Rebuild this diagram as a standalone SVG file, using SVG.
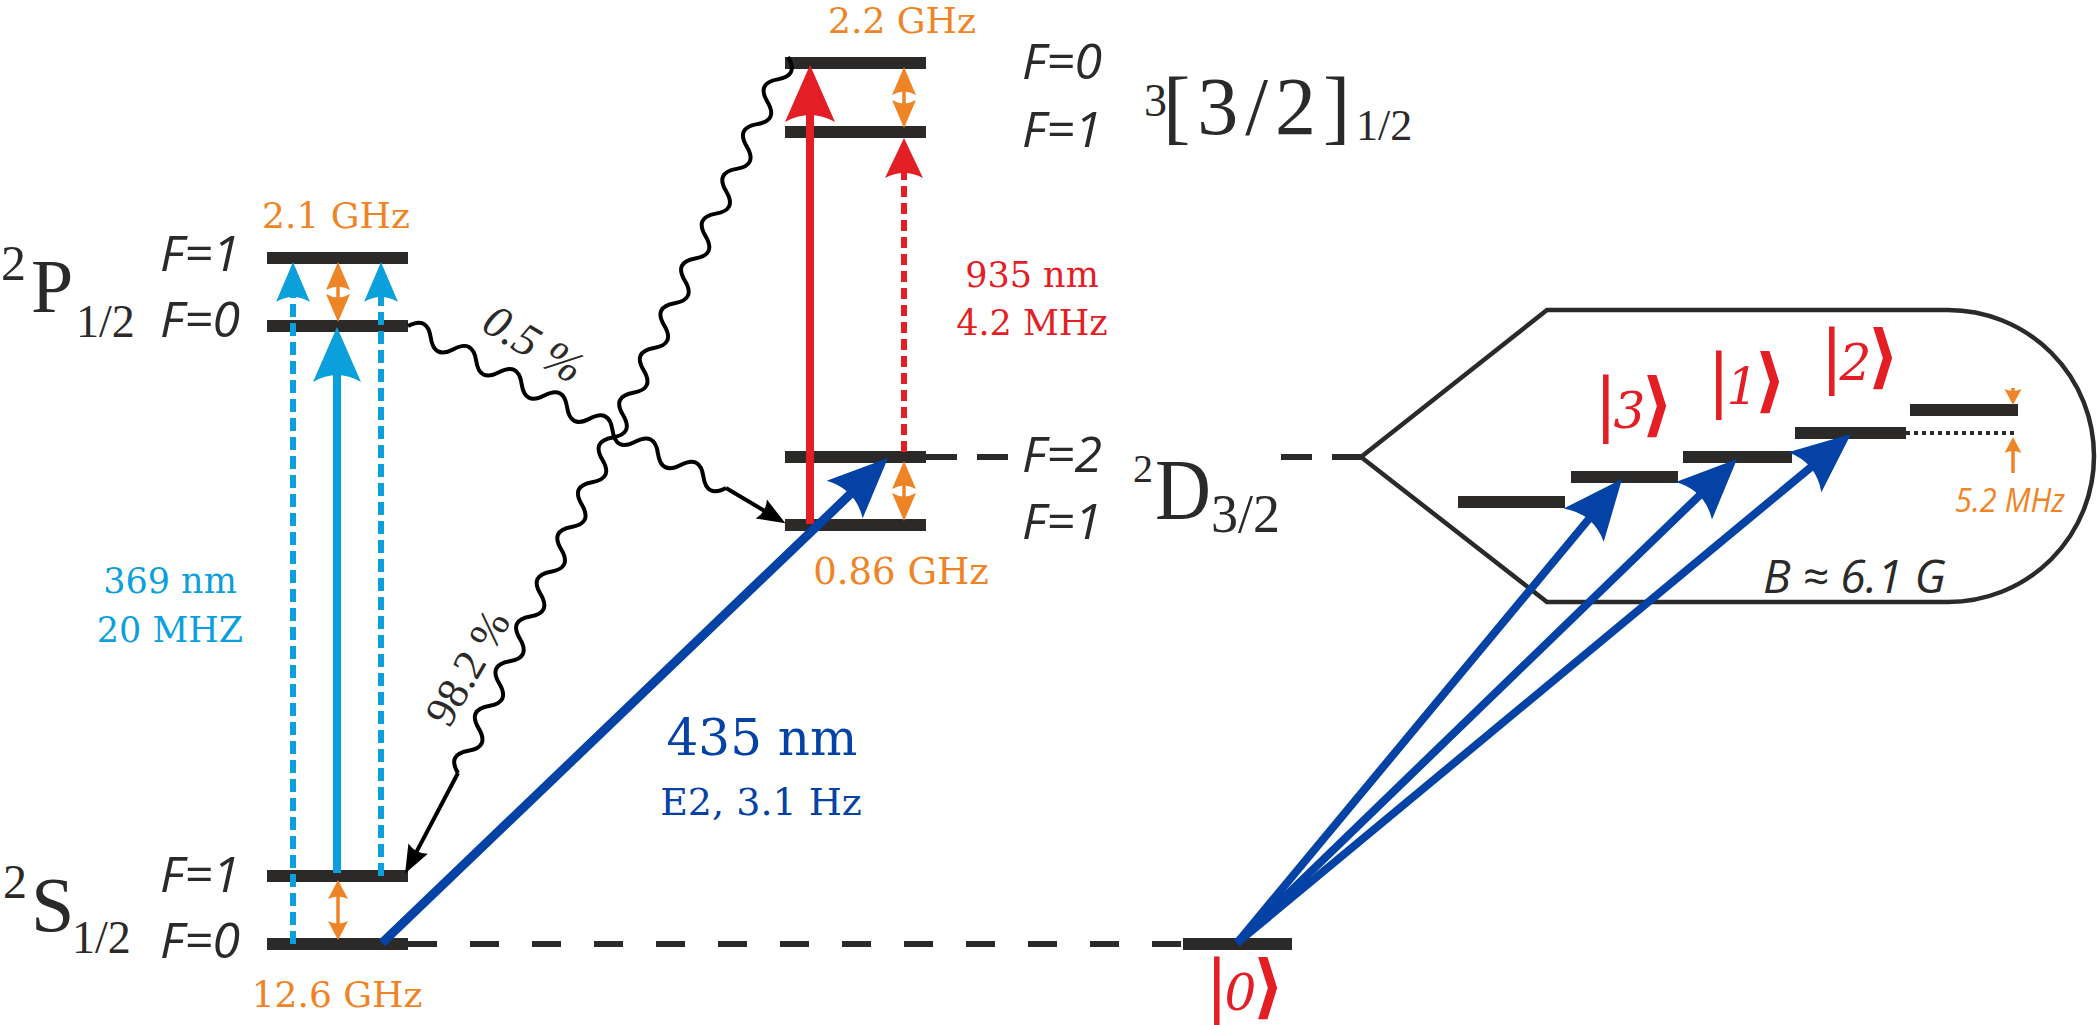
<svg xmlns="http://www.w3.org/2000/svg" width="2097" height="1025" viewBox="0 0 2097 1025">
<style>
.lvl{stroke:#2b2a29;stroke-width:12;fill:none}
.dash{stroke:#2b2a29;stroke-width:6;fill:none}
.wave{stroke:#000;stroke-width:4;fill:none}
.fl{font-family:"Open Sans","Noto Sans",sans-serif;font-style:italic;fill:#2b2a29}
.term{font-family:"Liberation Serif",serif;fill:#2b2a29}
.num{font-family:"DejaVu Serif",serif;text-anchor:middle}
.or{fill:#ef8426}
.lb{fill:#0b9fdc}
.rd{fill:#e31e25}
.db{fill:#0443a5}
.ket{font-family:"DejaVu Serif",serif;fill:#e31e25;letter-spacing:-4px}
.pct{font-family:"Liberation Serif",serif;fill:#2b2a29}
</style>
<defs>
<marker id="mLB" markerUnits="userSpaceOnUse" viewBox="0 -30 60 60" markerWidth="60" markerHeight="60" refX="10" refY="0" orient="auto" overflow="visible"><path d="M0,-24 L55,0 L0,24 Q14,0 0,-24Z" fill="#0b9fdc"/></marker>
<marker id="mLBs" markerUnits="userSpaceOnUse" viewBox="0 -30 60 60" markerWidth="60" markerHeight="60" refX="7" refY="0" orient="auto" overflow="visible"><path d="M0,-17 L40,0 L0,17 Q10,0 0,-17Z" fill="#0b9fdc"/></marker>
<marker id="mOR" markerUnits="userSpaceOnUse" viewBox="0 -30 60 60" markerWidth="60" markerHeight="60" refX="6" refY="0" orient="auto-start-reverse" overflow="visible"><path d="M0,-12 L28,0 L0,12 Q7,0 0,-12Z" fill="#ef8426"/></marker>
<marker id="mORs" markerUnits="userSpaceOnUse" viewBox="0 -30 60 60" markerWidth="60" markerHeight="60" refX="4" refY="0" orient="auto-start-reverse" overflow="visible"><path d="M0,-10 L19,0 L0,10 Q5,0 0,-10Z" fill="#ef8426"/></marker>
<marker id="mOR5" markerUnits="userSpaceOnUse" viewBox="0 -30 60 60" markerWidth="60" markerHeight="60" refX="3" refY="0" orient="auto" overflow="visible"><path d="M0,-8.5 L16,0 L0,8.5 Q4,0 0,-8.5Z" fill="#ef8426"/></marker>
<marker id="mRD" markerUnits="userSpaceOnUse" viewBox="0 -30 60 60" markerWidth="60" markerHeight="60" refX="10" refY="0" orient="auto" overflow="visible"><path d="M0,-25 L57,0 L0,25 Q14,0 0,-25Z" fill="#e31e25"/></marker>
<marker id="mRDs" markerUnits="userSpaceOnUse" viewBox="0 -30 60 60" markerWidth="60" markerHeight="60" refX="7" refY="0" orient="auto" overflow="visible"><path d="M0,-19 L40,0 L0,19 Q10,0 0,-19Z" fill="#e31e25"/></marker>
<marker id="mDB" markerUnits="userSpaceOnUse" viewBox="0 -30 70 60" markerWidth="70" markerHeight="60" refX="10" refY="0" orient="auto" overflow="visible"><path d="M0,-26 L60,0 L0,26 Q15,0 0,-26Z" fill="#0443a5"/></marker>
<marker id="mBK" markerUnits="userSpaceOnUse" viewBox="0 -30 60 60" markerWidth="60" markerHeight="60" refX="5" refY="0" orient="auto" overflow="visible"><path d="M0,-11 L28,0 L0,11 Q6,0 0,-11Z" fill="#000"/></marker>
</defs>

<g id="level-P1"><path class="lvl" d="M267,258 H408"/><text class="fl" style="font-size:50px" x="160" y="271">F=1</text></g>
<g id="level-P0"><path class="lvl" d="M267,326 H408"/><text class="fl" style="font-size:50px" x="160" y="337">F=0</text></g>
<g id="level-S1"><path class="lvl" d="M267,876 H408"/><text class="fl" style="font-size:50px" x="160" y="892">F=1</text></g>
<g id="level-S0"><path class="lvl" d="M267,944 H408"/><text class="fl" style="font-size:50px" x="160" y="958">F=0</text></g>
<g id="level-T0"><path class="lvl" d="M785,63 H926"/><text class="fl" style="font-size:50px" x="1022" y="79">F=0</text></g>
<g id="level-T1"><path class="lvl" d="M785,132 H926"/><text class="fl" style="font-size:50px" x="1022" y="147">F=1</text></g>
<g id="level-D2"><path class="lvl" d="M785,457 H926"/><text class="fl" style="font-size:50px" x="1022" y="472">F=2</text></g>
<g id="level-D1"><path class="lvl" d="M785,525 H926"/><text class="fl" style="font-size:50px" x="1022" y="539">F=1</text></g>

<g id="term-P"><text class="term" x="1" y="280" style="font-size:50px">2</text><text class="term" x="31" y="312" style="font-size:76px">P</text><text class="term" x="76" y="337" style="font-size:46px">1/2</text></g>
<g id="term-S"><text class="term" x="3" y="898" style="font-size:48px">2</text><text class="term" x="31" y="931" style="font-size:78px">S</text><text class="term" x="72" y="953" style="font-size:46px">1/2</text></g>
<g id="term-T"><text class="term" x="1144" y="116" style="font-size:46px">3</text><text class="term" x="1163" y="134" style="font-size:82px;letter-spacing:7px">[3/2]</text><text class="term" x="1356" y="140" style="font-size:44px">1/2</text></g>
<g id="term-D"><text class="term" x="1133" y="482" style="font-size:40px">2</text><text class="term" x="1155" y="519" style="font-size:86px" textLength="56" lengthAdjust="spacingAndGlyphs">D</text><text class="term" x="1211" y="532" style="font-size:54px">3/2</text></g>

<g id="inset">
<path d="M1547,310 L1948,310 A146,146 0 0 1 1948,602 L1547,602 L1361,457 Z" fill="none" stroke="#2b2a29" stroke-width="4.5"/>
<text class="fl" x="1763" y="593" style="font-size:46px" textLength="183" lengthAdjust="spacingAndGlyphs">B ≈ 6.1 G</text>
</g>
<g id="level-0"><path class="lvl" d="M1183,944 H1292"/><text class="ket" x="1205" y="1010"><tspan style="font-size:70px">|</tspan><tspan style="font-size:50px;font-style:italic">0</tspan><tspan style="font-size:70px;font-weight:bold">⟩</tspan></text></g>
<g id="level-m"><path class="lvl" d="M1458,502 H1565"/></g>
<g id="level-3"><path class="lvl" d="M1571,477 H1678"/><text class="ket" x="1594" y="428"><tspan style="font-size:70px">|</tspan><tspan style="font-size:50px;font-style:italic">3</tspan><tspan style="font-size:70px;font-weight:bold">⟩</tspan></text></g>
<g id="level-1"><path class="lvl" d="M1683,457 H1792"/><text class="ket" x="1707" y="404"><tspan style="font-size:70px">|</tspan><tspan style="font-size:50px;font-style:italic">1</tspan><tspan style="font-size:70px;font-weight:bold">⟩</tspan></text></g>
<g id="level-2"><path class="lvl" d="M1795,433 H1906"/><text class="ket" x="1820" y="380"><tspan style="font-size:70px">|</tspan><tspan style="font-size:50px;font-style:italic">2</tspan><tspan style="font-size:70px;font-weight:bold">⟩</tspan></text></g>
<g id="level-top"><path class="lvl" d="M1910,410 H2018"/></g>

<g id="connectors">
<path class="dash" d="M408,944 H1183" stroke-dasharray="29 33"/>
<path class="dash" d="M926,457 H1016" stroke-dasharray="31 20"/>
<path class="dash" d="M1281,457 H1361" stroke-dasharray="31 20"/>
<path d="M1906,433 H2017" stroke="#2b2a29" stroke-width="4" stroke-dasharray="4 4" fill="none"/>

<path class="wave" transform="translate(408,326) rotate(27)" d="M0,0 q12.75,-18 25.5,0 t25.5,0 t25.5,0 t25.5,0 t25.5,0 t25.5,0 t25.5,0 t25.5,0 t25.5,0 t25.5,0 t25.5,0 t25.5,0 t25.5,0 t25.5,0"/>
<path class="wave" d="M726,488 L765.6,511.5" marker-end="url(#mBK)"/>
<path class="wave" transform="translate(788,57) rotate(114.74)" d="M0,0 q12.32,-18 24.64,0 t24.64,0 t24.64,0 t24.64,0 t24.64,0 t24.64,0 t24.64,0 t24.64,0 t24.64,0 t24.64,0 t24.64,0 t24.64,0 t24.64,0 t24.64,0 t24.64,0 t24.64,0 t24.64,0 t24.64,0 t24.64,0 t24.64,0 t24.64,0 t24.64,0 t24.64,0 t24.64,0 t24.64,0 t24.64,0 t24.64,0 t24.64,0 t24.64,0 t24.64,0 t24.64,0 t24.64,0"/>
<path class="wave" d="M458,773 L415.8,853.1" marker-end="url(#mBK)"/>

<path d="M293,944 V295" stroke="#0b9fdc" stroke-width="6" stroke-dasharray="13 6" fill="none" marker-end="url(#mLBs)"/>
<path d="M381,876 V295" stroke="#0b9fdc" stroke-width="6" stroke-dasharray="13 6" fill="none" marker-end="url(#mLBs)"/>
<path d="M337,873 V372" stroke="#0b9fdc" stroke-width="8" fill="none" marker-end="url(#mLB)"/>

<path d="M338,300 V284" stroke="#ef8426" stroke-width="3.5" fill="none" marker-start="url(#mOR)" marker-end="url(#mOR)"/>
<path d="M338,925 V895" stroke="#ef8426" stroke-width="3.5" fill="none" marker-start="url(#mORs)" marker-end="url(#mORs)"/>
<path d="M904,106 V89" stroke="#ef8426" stroke-width="3.5" fill="none" marker-start="url(#mOR)" marker-end="url(#mOR)"/>
<path d="M904,499 V483" stroke="#ef8426" stroke-width="3.5" fill="none" marker-start="url(#mOR)" marker-end="url(#mOR)"/>
<path d="M2013,388 V392" stroke="#ef8426" stroke-width="3.5" fill="none" marker-end="url(#mOR5)"/>
<path d="M2013,473 V450" stroke="#ef8426" stroke-width="3.5" fill="none" marker-end="url(#mOR5)"/>

<path d="M810,524 V112" stroke="#e31e25" stroke-width="8" fill="none" marker-end="url(#mRD)"/>
<path d="M904,452 V171" stroke="#e31e25" stroke-width="6" stroke-dasharray="11 6" fill="none" marker-end="url(#mRDs)"/>

<path d="M382,943 L851.9,492.6" stroke="#0443a5" stroke-width="9" fill="none" marker-end="url(#mDB)"/>
<path d="M1237,943 L1590.1,517.5" stroke="#0443a5" stroke-width="8" fill="none" marker-end="url(#mDB)"/>
<path d="M1237,943 L1701.1,493.8" stroke="#0443a5" stroke-width="8" fill="none" marker-end="url(#mDB)"/>
<path d="M1237,943 L1812.5,465.9" stroke="#0443a5" stroke-width="8" fill="none" marker-end="url(#mDB)"/>
</g>

<g id="labels">
<text class="num or" style="font-size:36px" x="902" y="33">2.2 GHz</text>
<text class="num or" style="font-size:36px" x="336" y="228">2.1 GHz</text>
<text class="num or" style="font-size:37px" x="901" y="584">0.86 GHz</text>
<text class="num or" style="font-size:36px" x="337" y="1007">12.6 GHz</text>
<text class="num lb" style="font-size:35px" x="170" y="593">369 nm</text>
<text class="num lb" style="font-size:35px" x="170" y="642">20 MHZ</text>
<text class="num rd" style="font-size:35px" x="1032" y="287">935 nm</text>
<text class="num rd" style="font-size:35px" x="1032" y="335">4.2 MHz</text>
<text class="num db" style="font-size:50px" x="762" y="755">435 nm</text>
<text class="num db" style="font-size:38px" x="761" y="815">E2, 3.1 Hz</text>
<text class="fl or" x="1955" y="512" style="font-size:32px" textLength="110" lengthAdjust="spacingAndGlyphs">5.2 MHz</text>
<text class="pct" style="font-size:44px" transform="translate(468,668) rotate(-60)" text-anchor="middle" y="14">98.2 %</text>
<text class="pct" style="font-size:46px;font-style:italic" transform="translate(533,345) rotate(31)" text-anchor="middle" y="14">0.5 %</text>
</g>
</svg>
